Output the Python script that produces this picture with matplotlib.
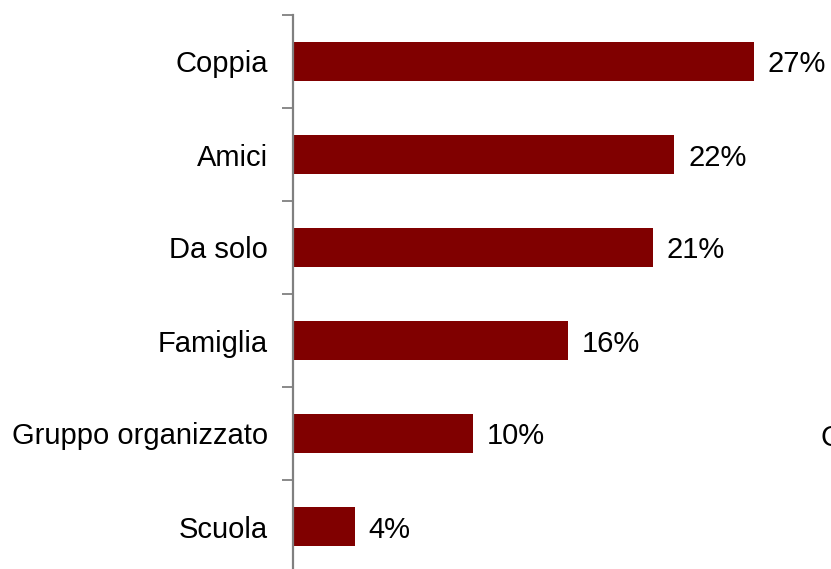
import matplotlib
matplotlib.use('Agg')
import matplotlib.pyplot as plt

plt.rcParams['font.family'] = ['Liberation Sans', 'DejaVu Sans']

# data
categories = ['Coppia', 'Amici', 'Da solo', 'Famiglia', 'Gruppo organizzato', 'Scuola']
values = [26.96, 22.3, 21.05, 16.1, 10.5, 3.6]
labels = ['27%', '22%', '21%', '16%', '10%', '4%']

W, H = 831, 569
fig = plt.figure(figsize=(W / 100, H / 100), dpi=100)
# axes spans from y=15px to y=573px (just below the figure edge)
ax = fig.add_axes([293 / W, -4 / H, 461 / W * 32 / 26.96, 558 / H])

pos = list(range(len(categories)))
ax.barh(pos, values, height=0.43, color='#800000')
ax.set_ylim(len(categories) - 0.5, -0.5)
ax.set_xlim(0, 32)

# category boundary ticks on the left
ax.set_yticks([i - 0.5 for i in range(len(categories) + 1)])
ax.set_yticklabels([])
ax.tick_params(axis='y', which='major', length=8, width=1.3, color='#808080', direction='out')
ax.set_yticks(pos, minor=True)
ax.set_yticklabels(categories, minor=True, fontsize=21, va='center_baseline')
ax.tick_params(axis='y', which='minor', length=0, pad=18)
ax.set_xticks([])

for s in ['top', 'right', 'bottom']:
    ax.spines[s].set_visible(False)
ax.spines['left'].set_color('#808080')
ax.spines['left'].set_linewidth(1.6)

for p, v, lab in zip(pos, values, labels):
    ax.annotate(lab, (v, p), xytext=(10, 0), textcoords='offset points',
                va='center_baseline', ha='left', fontsize=21, annotation_clip=False)

# clipped legend text at the right edge
fig.text(820 / W, 1 - 435 / H, 'C', fontsize=21, va='center_baseline', ha='left')

fig.savefig('out.png', dpi=100)
